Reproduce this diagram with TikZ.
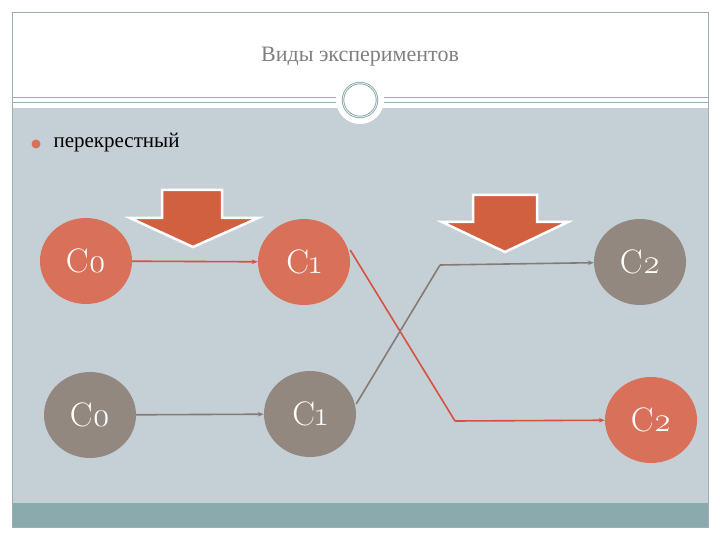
\documentclass[tikz,border=0pt]{standalone}
\usepackage{fontspec}
\setmainfont{Liberation Serif}[Numbers=OldStyle]
\newfontfamily\numfont{Latin Modern Roman}[Numbers=OldStyle]
\usetikzlibrary{arrows.meta}
\definecolor{panel}{HTML}{C5D0D6}
\definecolor{foot}{HTML}{8BAAAD}
\definecolor{frame}{HTML}{9AB0AE}
\definecolor{ored}{HTML}{D9705A}
\definecolor{ogray}{HTML}{938880}
\definecolor{barrow}{HTML}{D0603F}
\definecolor{lred}{HTML}{D9503F}
\definecolor{lgray}{HTML}{857B74}
\tikzset{
 stage/.style={ellipse,minimum width=92pt,minimum height=86pt,inner sep=0pt,text=white,font=\fontsize{34}{34}\selectfont},
 redc/.style={stage,fill=ored},
 grayc/.style={stage,fill=ogray},
 redl/.style={draw=lred,line width=1.6pt,-{Stealth[length=6pt]}},
 grayl/.style={draw=lgray,line width=1.6pt,-{Stealth[length=6pt]}},
 blockarrow/.style={fill=barrow,draw=white,line width=2.5pt,line join=miter}
}
\usetikzlibrary{shapes.geometric}
\begin{document}
\begin{tikzpicture}[x=1pt,y=-1pt]
\useasboundingbox (0,0) rectangle (720,540);
\fill[white] (0,0) rectangle (720,540);
\fill[panel] (12,108) rectangle (708,503);
\fill[foot] (12,503) rectangle (708,527);
\draw[frame,line width=0.8pt] (12,12) rectangle (708,527);
\draw[frame,line width=0.8pt] (12,97.5) -- (708,97.5);
\draw[frame,line width=0.8pt] (12,102) -- (708,102);
\fill[white] (360,100) circle (24);
\draw[foot,line width=2.5pt] (360,100) circle (17);
\draw[white,line width=0.6pt] (360,100) circle (17);
\node[text=gray,font=\fontsize{22}{22}\selectfont] (title) at (360,57) {Виды экспериментов};
\fill[ored] (36,144) circle (4.5);
\node[anchor=west,font=\fontsize{21}{21}\selectfont] (sub) at (50,143) {перекрестный};
\draw[blockarrow] (162,190) -- (222,190) -- (222,218) -- (258,218) -- (193,247) -- (130,218) -- (162,218) -- cycle;
\draw[blockarrow] (473,195) -- (537,195) -- (537,222) -- (568,222) -- (505,252) -- (442,222) -- (473,222) -- cycle;
\node[redc] (a0) at (86,261) {\numfont C0};
\node[redc] (a1) at (304,262) {\numfont C1};
\node[grayc] (a2) at (640,262) {\numfont C2};
\node[grayc] (b0) at (90,415) {\numfont C0};
\node[grayc] (b1) at (310,414) {\numfont C1};
\node[redc] (b2) at (651,420) {\numfont C2};
\coordinate (r1) at (455,421);
\coordinate (g1) at (440,265);
\draw[redl] (a0) -- (a1);
\draw[grayl] (b0) -- (b1);
\draw[redl,-] (a1.east) ++(0,-12) coordinate (ra) -- (r1);
\draw[redl] (r1) -- (b2);
\draw[grayl,-] (b1.east) ++(0,-10) coordinate (ga) -- (g1);
\draw[grayl] (g1) -- (a2);
\end{tikzpicture}
\end{document}
